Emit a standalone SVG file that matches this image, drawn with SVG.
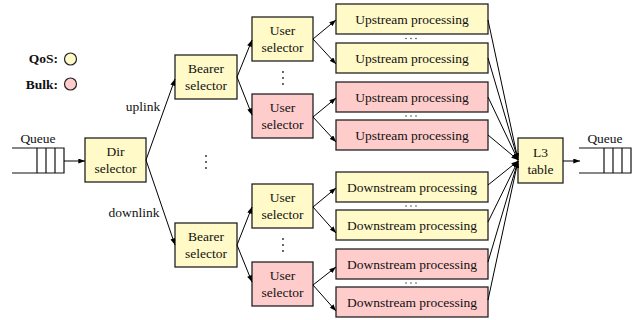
<svg xmlns="http://www.w3.org/2000/svg" width="638" height="320" viewBox="0 0 638 320">
<defs>
<marker id="ah" viewBox="0 0 8 6" refX="8" refY="3" markerWidth="7" markerHeight="5" markerUnits="userSpaceOnUse" orient="auto"><path d="M0,0 L8,3 L0,6 Z" fill="#000"/></marker>
<style>
.box{stroke:#222;stroke-width:1.3}
.y{fill:#fffac8}
.p{fill:#ffcccc}
text{font-family:"Liberation Serif","Times New Roman",serif;font-size:13.5px;fill:#111;text-anchor:middle}
.b{font-weight:bold;text-anchor:end}
.c{fill:none;stroke:#000;stroke-width:1}
.q{fill:none;stroke:#111;stroke-width:1.2}
.dot{fill:#222}
</style>
</defs>
<rect width="638" height="320" fill="#fff"/>

<g id="legend">
<text class="b" x="58" y="63">QoS:</text>
<circle cx="70.5" cy="59" r="6" class="y" stroke="#222" stroke-width="1.2"/>
<text class="b" x="58" y="89">Bulk:</text>
<circle cx="70.5" cy="84" r="6" class="p" stroke="#222" stroke-width="1.2"/>
</g>

<g id="queue-in">
<text x="38" y="143">Queue</text>
<path class="q" d="M12,148 H64 V173 H12 M37,148 V173 M46,148 V173 M55,148 V173"/>
</g>

<g id="queue-out">
<text x="605" y="143">Queue</text>
<path class="q" d="M579,148 H631 V173 H579 M604,148 V173 M613,148 V173 M622,148 V173"/>
</g>

<g id="dir">
<rect class="box y" x="85" y="138" width="61" height="44"/>
<text x="115.5" y="156">Dir</text>
<text x="115.5" y="173">selector</text>
</g>

<g id="bearer-up">
<rect class="box y" x="175" y="55" width="62" height="44"/>
<text x="206" y="73">Bearer</text>
<text x="206" y="90">selector</text>
</g>
<g id="bearer-down">
<rect class="box y" x="175" y="223" width="62" height="44"/>
<text x="206" y="241">Bearer</text>
<text x="206" y="258">selector</text>
</g>

<g id="user-up-qos">
<rect class="box y" x="252" y="17" width="61" height="44"/>
<text x="282.5" y="35">User</text>
<text x="282.5" y="52">selector</text>
</g>
<g id="user-up-bulk">
<rect class="box p" x="252" y="94" width="61" height="44"/>
<text x="282.5" y="112">User</text>
<text x="282.5" y="129">selector</text>
</g>
<g id="user-down-qos">
<rect class="box y" x="252" y="184" width="61" height="44"/>
<text x="282.5" y="202">User</text>
<text x="282.5" y="219">selector</text>
</g>
<g id="user-down-bulk">
<rect class="box p" x="252" y="262" width="61" height="44"/>
<text x="282.5" y="280">User</text>
<text x="282.5" y="297">selector</text>
</g>

<g id="up1"><rect class="box y" x="336" y="4" width="152" height="30"/><text x="412" y="23.5">Upstream processing</text></g>
<g id="up2"><rect class="box y" x="336" y="43" width="152" height="30"/><text x="412" y="62.5">Upstream processing</text></g>
<g id="up3"><rect class="box p" x="336" y="82" width="152" height="30"/><text x="412" y="101.5">Upstream processing</text></g>
<g id="up4"><rect class="box p" x="336" y="120" width="152" height="30"/><text x="412" y="139.5">Upstream processing</text></g>
<g id="down1"><rect class="box y" x="336" y="172" width="152" height="30"/><text x="412" y="191.5">Downstream processing</text></g>
<g id="down2"><rect class="box y" x="336" y="210" width="152" height="30"/><text x="412" y="229.5">Downstream processing</text></g>
<g id="down3"><rect class="box p" x="336" y="249" width="152" height="30"/><text x="412" y="268.5">Downstream processing</text></g>
<g id="down4"><rect class="box p" x="336" y="287" width="152" height="30"/><text x="412" y="306.5">Downstream processing</text></g>

<g id="l3">
<rect class="box y" x="518" y="138" width="45" height="45"/>
<text x="540.5" y="157">L3</text>
<text x="540.5" y="174">table</text>
</g>

<g id="labels">
<text x="143" y="111">uplink</text>
<text x="134" y="217">downlink</text>
</g>

<g id="ellipses">
<circle class="dot" cx="206" cy="156" r="0.9"/><circle class="dot" cx="206" cy="162" r="0.9"/><circle class="dot" cx="206" cy="168" r="0.9"/>
<circle class="dot" cx="283" cy="72" r="0.9"/><circle class="dot" cx="283" cy="78" r="0.9"/><circle class="dot" cx="283" cy="84" r="0.9"/>
<circle class="dot" cx="283" cy="239" r="0.9"/><circle class="dot" cx="283" cy="245" r="0.9"/><circle class="dot" cx="283" cy="251" r="0.9"/>
<circle class="dot" cx="406" cy="38.5" r="0.7"/><circle class="dot" cx="411" cy="38.5" r="0.7"/><circle class="dot" cx="416" cy="38.5" r="0.7"/>
<circle class="dot" cx="406" cy="116" r="0.7"/><circle class="dot" cx="411" cy="116" r="0.7"/><circle class="dot" cx="416" cy="116" r="0.7"/>
<circle class="dot" cx="406" cy="206" r="0.7"/><circle class="dot" cx="411" cy="206" r="0.7"/><circle class="dot" cx="416" cy="206" r="0.7"/>
<circle class="dot" cx="406" cy="283" r="0.7"/><circle class="dot" cx="411" cy="283" r="0.7"/><circle class="dot" cx="416" cy="283" r="0.7"/>
</g>

<g id="connectors" class="c" marker-end="url(#ah)">
<line class="c" x1="64" y1="161" x2="85" y2="161" marker-end="url(#ah)"/>
<line class="c" x1="146" y1="160" x2="175" y2="79" marker-end="url(#ah)"/>
<line class="c" x1="146" y1="160" x2="175" y2="245" marker-end="url(#ah)"/>
<line class="c" x1="237" y1="77" x2="252" y2="40" marker-end="url(#ah)"/>
<line class="c" x1="237" y1="77" x2="252" y2="115" marker-end="url(#ah)"/>
<line class="c" x1="237" y1="245" x2="252" y2="207" marker-end="url(#ah)"/>
<line class="c" x1="237" y1="245" x2="252" y2="282" marker-end="url(#ah)"/>
<line class="c" x1="313" y1="39" x2="336" y2="20" marker-end="url(#ah)"/>
<line class="c" x1="313" y1="39" x2="336" y2="64" marker-end="url(#ah)"/>
<line class="c" x1="313" y1="117" x2="336" y2="98" marker-end="url(#ah)"/>
<line class="c" x1="313" y1="117" x2="336" y2="142" marker-end="url(#ah)"/>
<line class="c" x1="313" y1="207" x2="336" y2="188" marker-end="url(#ah)"/>
<line class="c" x1="313" y1="207" x2="336" y2="233" marker-end="url(#ah)"/>
<line class="c" x1="313" y1="285" x2="336" y2="267" marker-end="url(#ah)"/>
<line class="c" x1="313" y1="285" x2="336" y2="311" marker-end="url(#ah)"/>
<line class="c" x1="488" y1="20" x2="518" y2="160" marker-end="url(#ah)"/>
<line class="c" x1="488" y1="58" x2="518" y2="160" marker-end="url(#ah)"/>
<line class="c" x1="488" y1="97" x2="518" y2="160" marker-end="url(#ah)"/>
<line class="c" x1="488" y1="135" x2="518" y2="160" marker-end="url(#ah)"/>
<line class="c" x1="488" y1="185" x2="518" y2="161" marker-end="url(#ah)"/>
<line class="c" x1="488" y1="222" x2="518" y2="161" marker-end="url(#ah)"/>
<line class="c" x1="488" y1="262" x2="518" y2="161" marker-end="url(#ah)"/>
<line class="c" x1="488" y1="300" x2="518" y2="161" marker-end="url(#ah)"/>
<line class="c" x1="563" y1="161" x2="580" y2="161" marker-end="url(#ah)"/>
</g>
</svg>
